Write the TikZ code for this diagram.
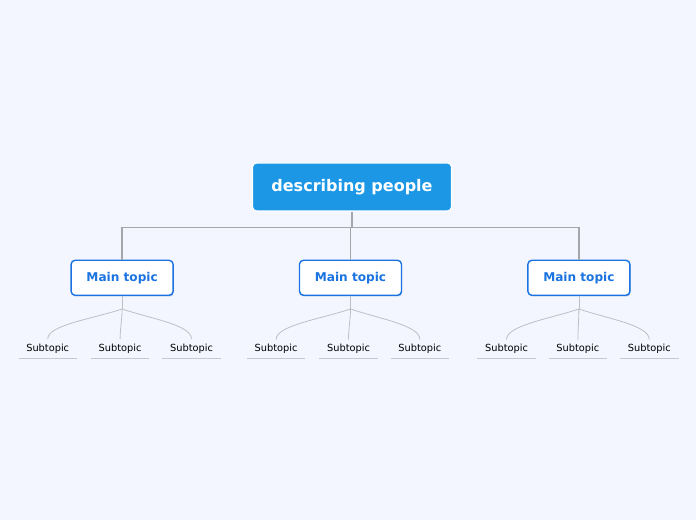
\documentclass[tikz,border=0pt]{standalone}
\usepackage{fontspec}
\setmainfont{DejaVu Sans}
\usetikzlibrary{positioning,shadows}
\definecolor{canvas}{HTML}{F3F6FE}
\definecolor{rootblue}{HTML}{1B97E6}
\definecolor{topicblue}{HTML}{1A73E0}
\definecolor{trunkgray}{HTML}{A4A6AC}
\definecolor{twiggray}{HTML}{BDBFC6}
\definecolor{rulegray}{HTML}{C6C9D1}

\begin{document}
\begin{tikzpicture}[x=1pt,y=1pt,
    rootbox/.style={rounded corners=4pt,draw=white,line width=1.2pt,fill=rootblue,text=white,font=\fontsize{16}{18}\selectfont\bfseries,minimum width=199pt,minimum height=48pt},
    topic/.style={rounded corners=4pt,draw=topicblue,line width=1.4pt,fill=white,text=topicblue,font=\fontsize{12.1}{14}\selectfont\bfseries,minimum width=102pt,minimum height=35pt,drop shadow={shadow xshift=0.6pt,shadow yshift=-1.2pt,fill=topicblue!60!gray,opacity=0.45}},
    sub/.style={font=\fontsize{9.8}{12}\selectfont,minimum width=58pt,inner ysep=4.5pt,text height=7.5pt,text depth=2.5pt,append after command={(\tikzlastnode.south west) edge[uline] (\tikzlastnode.south east)}},
    uline/.style={draw=rulegray,line width=1pt},
    stem/.style={draw=trunkgray,line width=1.8pt},
    twig/.style={draw=twiggray,line width=0.8pt}]
  \fill[canvas] (0,0) rectangle (696,520);
  \node[rootbox] (root) at (352,333) {describing people};
  \coordinate[below=16pt of root] (hub);
  \node[topic,below=48pt of root,xshift=-1.5pt] (m2) {Main topic};
  \node[topic,left=125pt of m2] (m1) {Main topic};
  \node[topic,right=125pt of m2] (m3) {Main topic};
  \draw[stem] (root) -- (hub);
  \draw[stem] (hub) -| (m1);
  \draw[stem] (hub) -| (m2);
  \draw[stem] (hub) -| (m3);
  % first group
  \node[sub,below=43pt of m1,xshift=-2pt] (s12) {Subtopic};
  \node[sub,left=14pt of s12] (s11) {Subtopic};
  \node[sub,right=13pt of s12] (s13) {Subtopic};
  \coordinate[below=13pt of m1] (j1);
  \draw[twig] (m1) -- (j1);
  \draw[twig] (j1) .. controls +(-30,-10) and +(0,14) .. (s11.north);
  \draw[twig] (j1) .. controls +(0,-10) and +(0,10) .. (s12.north);
  \draw[twig] (j1) .. controls +(30,-10) and +(0,14) .. (s13.north);
  % second group
  \node[sub,below=43.5pt of m2,xshift=-2pt] (s22) {Subtopic};
  \node[sub,left=14pt of s22] (s21) {Subtopic};
  \node[sub,right=13pt of s22] (s23) {Subtopic};
  \coordinate[below=13pt of m2] (j2);
  \draw[twig] (m2) -- (j2);
  \draw[twig] (j2) .. controls +(-30,-10) and +(0,14) .. (s21.north);
  \draw[twig] (j2) .. controls +(0,-10) and +(0,10) .. (s22.north);
  \draw[twig] (j2) .. controls +(30,-10) and +(0,14) .. (s23.north);
  % third group
  \node[sub,below=43.5pt of m3,xshift=-1pt] (s32) {Subtopic};
  \node[sub,left=13pt of s32] (s31) {Subtopic};
  \node[sub,right=13pt of s32] (s33) {Subtopic};
  \coordinate[below=13pt of m3] (j3);
  \draw[twig] (m3) -- (j3);
  \draw[twig] (j3) .. controls +(-30,-10) and +(0,14) .. (s31.north);
  \draw[twig] (j3) .. controls +(0,-10) and +(0,10) .. (s32.north);
  \draw[twig] (j3) .. controls +(30,-10) and +(0,14) .. (s33.north);
\end{tikzpicture}
\end{document}
